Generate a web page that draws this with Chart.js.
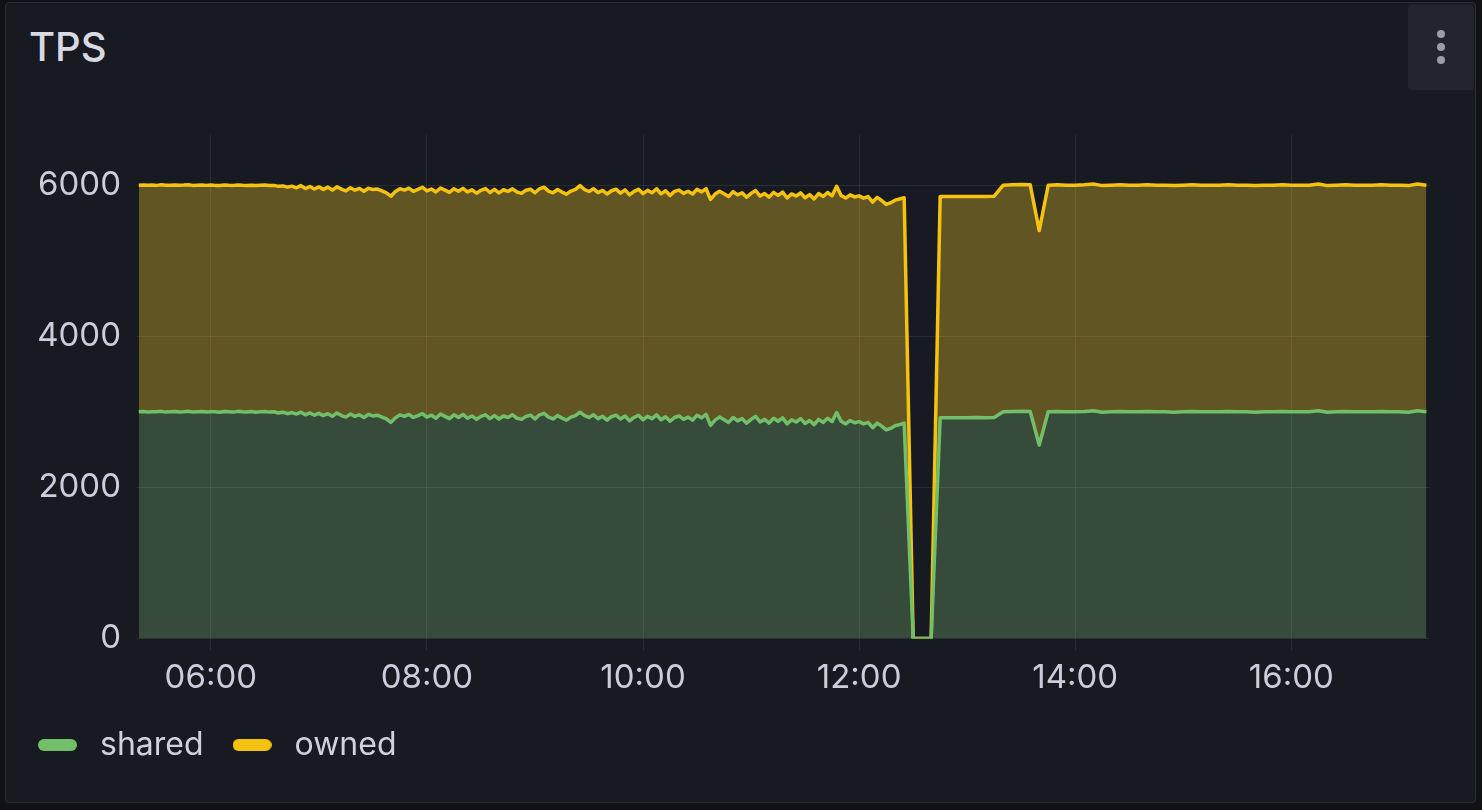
<!DOCTYPE html>
<html>
<head>
<meta charset="utf-8">
<script src="https://cdn.jsdelivr.net/npm/chart.js@4.4.1/dist/chart.umd.min.js"></script>
<style>
  html, body { margin: 0; padding: 0; width: 1482px; height: 810px; overflow: hidden; background: #111217; font-family: Inter, "Noto Sans", sans-serif; }
  .panel { position: absolute; left: 5px; top: 2px; width: 1471px; height: 801px; box-sizing: border-box; background: #181a22; border: 1px solid #2b2d36; border-radius: 4px; }
  .title { position: absolute; left: 29px; top: 27px; font-size: 40px; line-height: 40px; font-weight: 500; color: #d8d9e2; }
  .menu { position: absolute; left: 1408px; top: 5px; width: 66px; height: 85px; background: #23252e; border-radius: 4px; }
  .menu span { position: absolute; left: 29px; width: 8px; height: 8px; border-radius: 50%; background: #9c9ca8; }
  .wrap { position: absolute; left: 0; top: 0; width: 1482px; height: 810px; }
</style>
</head>
<body>
<div class="panel"></div>
<div class="title">TPS</div>
<div class="menu"><span style="top:25px"></span><span style="top:38px"></span><span style="top:51px"></span></div>
<div class="wrap"><canvas id="tps"></canvas></div>
<script>
// sample times in minutes since midnight:
// every 2.5 min from 05:20 to 12:25, then every 5 min up to 17:15
const times = [];
for (let t = 320; t <= 745; t += 2.5) times.push(t);
for (let t = 750; t <= 1035; t += 5) times.push(t);

const shared = [
  3000, 3005, 2998, 3002, 3000, 3006, 2996, 3000, 3004, 2998,
  3002, 3008, 2996, 3000, 3005, 2998, 3002, 3000, 2995, 3004,
  3000, 2996, 3006, 3000, 2998, 3003, 2995, 3000, 3004, 2996,
  3000, 2985, 2995, 2975, 2990, 2970, 2995, 2960, 2985, 2955,
  2980, 2950, 2975, 2940, 2985, 2950, 2930, 2970, 2940, 2960,
  2925, 2965, 2945, 2955, 2930, 2905, 2860, 2920, 2960, 2940,
  2965, 2925, 2950, 2975, 2930, 2955, 2915, 2970, 2940, 2910,
  2960, 2925, 2965, 2915, 2945, 2900, 2940, 2960, 2910, 2950,
  2905, 2945, 2925, 2960, 2915, 2900, 2940, 2955, 2905, 2960,
  2980, 2930, 2905, 2950, 2915, 2890, 2930, 2950, 2995, 2950,
  2925, 2960, 2910, 2940, 2890, 2935, 2955, 2905, 2945, 2880,
  2925, 2955, 2895, 2940, 2910, 2960, 2895, 2935, 2875, 2925,
  2945, 2900, 2930, 2890, 2955, 2920, 2965, 2820, 2890, 2930,
  2895, 2860, 2925, 2880, 2910, 2850, 2900, 2940, 2865, 2900,
  2850, 2915, 2875, 2920, 2840, 2895, 2865, 2910, 2845, 2885,
  2830, 2900, 2860, 2915, 2870, 2990, 2875, 2840, 2885, 2855,
  2870, 2840, 2860, 2790, 2850, 2810, 2760, 2780, 2815, 2830,
  2850,
  0, 0, 0,
  2920, 2920, 2922, 2920, 2925, 2923, 2925,
  3000, 3005, 3008, 3005,
  2560,
  3000, 3005, 3000, 3000, 3005, 3015, 2995, 3000, 3005, 3000,
  3000, 3005, 3000, 3000, 2995, 3000, 3005, 3000, 3000, 3000,
  3005, 3000, 3000, 2995, 3000, 3000, 3005, 3000, 3000, 3000,
  3015, 2995, 3000, 3005, 3000, 3000, 3000, 3005, 3000, 3000,
  2995, 3015, 3000
];

const owned = [
  3000, 2998, 3002, 3000, 2998, 3000, 3004, 3000, 2998, 3002,
  3000, 2998, 3002, 3000, 2998, 3000, 3002, 2998, 3000, 3000,
  3000, 3002, 2998, 3000, 3000, 2998, 3002, 3000, 2998, 3000,
  2998, 3000, 2996, 3000, 2998, 2996, 3000, 2996, 2998, 2995,
  2998, 2995, 3000, 2996, 2994, 2998, 2995, 2996, 2994, 2998,
  2995, 2994, 2998, 2995, 2996, 2994, 2995, 2998, 2994, 2996,
  2995, 2994, 2996, 2998, 2994, 2995, 2996, 2993, 2995, 2996,
  2994, 2995, 2993, 2996, 2994, 2995, 2993, 2996, 2994, 2995,
  2993, 2995, 2994, 2992, 2995, 2993, 2994, 2992, 2995, 2993,
  2994, 2992, 2995, 2993, 2994, 2992, 2993, 2995, 3000, 2993,
  2992, 2994, 2993, 2991, 2994, 2992, 2993, 2991, 2994, 2992,
  2993, 2991, 2994, 2992, 2990, 2993, 2991, 2992, 2990, 2993,
  2991, 2992, 2990, 2993, 2991, 2992, 2990, 2991, 2993, 2990,
  2992, 2990, 2991, 2993, 2990, 2991, 2992, 2990, 2991, 2990,
  2992, 2990, 2991, 2989, 2991, 2990, 2992, 2989, 2990, 2991,
  2989, 2990, 2991, 2989, 2990, 2995, 2989, 2990, 2988, 2990,
  2989, 2988, 2990, 2987, 2989, 2988, 2986, 2988, 2987, 2988,
  2985,
  0, 0, 0,
  2930, 2930, 2928, 2930, 2925, 2927, 2930,
  3000, 3000, 3000, 3000,
  2840,
  3000, 3000, 3000, 3000, 3000, 3000, 3000, 3000, 3000, 3000,
  3000, 3000, 3000, 3000, 3000, 3000, 3000, 3000, 3000, 3000,
  3000, 3000, 3000, 3000, 3000, 3000, 3000, 3000, 3000, 3000,
  3000, 3000, 3000, 3000, 3000, 3000, 3000, 3000, 3000, 3000,
  3000, 3000, 3000
];

const tickMinutes = [360, 480, 600, 720, 840, 960];
const tickLabels = ['06:00', '08:00', '10:00', '12:00', '14:00', '16:00'];
const yTicks = [0, 2000, 4000, 6000];

const seriesNames = ['shared', 'owned'];
const lineColors = ['#73bf69', '#f5c20f'];
const fillColors = ['rgba(122, 180, 108, 0.32)', 'rgba(242, 200, 40, 0.34)'];

const textColor = '#ccccdc';
const gridColor = 'rgba(204, 204, 220, 0.1)';

// rounded bar used as the legend marker
function marker(color) {
  const c = document.createElement('canvas');
  c.width = 39;
  c.height = 12;
  const ctx = c.getContext('2d');
  ctx.fillStyle = color;
  ctx.beginPath();
  ctx.roundRect(0, 0, 39, 12, 6);
  ctx.fill();
  return c;
}
const markers = lineColors.map(marker);

const toPoints = (vals) => vals.map((v, i) => ({ x: times[i], y: v }));

new Chart(document.getElementById('tps'), {
  type: 'line',
  data: {
    datasets: [
      {
        label: seriesNames[0],
        data: toPoints(shared),
        borderColor: lineColors[0],
        backgroundColor: fillColors[0],
        fill: 'origin',
      },
      {
        label: seriesNames[1],
        data: toPoints(owned),
        borderColor: lineColors[1],
        backgroundColor: fillColors[1],
        fill: '-1',
      },
    ],
  },
  options: {
    responsive: true,
    maintainAspectRatio: false,
    animation: false,
    layout: { padding: { left: 9, right: 52, top: 135, bottom: 39 } },
    elements: {
      point: { radius: 0, hoverRadius: 0 },
      line: { tension: 0, borderWidth: 3.5, borderJoinStyle: 'round' },
    },
    scales: {
      x: {
        type: 'linear',
        min: 319,
        max: 1037,
        afterBuildTicks: (s) => { s.ticks = tickMinutes.map((v) => ({ value: v })); },
        afterFit: (s) => { s.height += 1; },
        ticks: {
          color: textColor,
          font: { family: 'Inter', size: 33 },
          padding: 8,
          maxRotation: 0,
          autoSkip: false,
          callback: (v) => tickLabels[tickMinutes.indexOf(v)],
        },
        grid: { color: gridColor, tickColor: gridColor, tickLength: 12 },
        border: { display: false },
      },
      y: {
        stacked: true,
        min: 0,
        max: 6665,
        afterBuildTicks: (s) => { s.ticks = yTicks.map((v) => ({ value: v })); },
        afterFit: (s) => { s.width = 128; },
        ticks: {
          color: textColor,
          font: { family: 'Inter', size: 33 },
          padding: 16,
          callback: (v) => String(v),
        },
        grid: { color: gridColor, drawTicks: false },
        border: { display: false },
      },
    },
    plugins: {
      tooltip: { enabled: false },
      legend: {
        position: 'bottom',
        align: 'start',
        labels: {
          color: '#d0d1dc',
          font: { family: 'Inter', size: 32 },
          usePointStyle: true,
          pointStyleWidth: 53,
          padding: 22,
          generateLabels: (chart) =>
            Chart.defaults.plugins.legend.labels.generateLabels(chart).map((item, i) => {
              item.pointStyle = markers[i];
              return item;
            }),
        },
      },
    },
  },
});
</script>
</body>
</html>
